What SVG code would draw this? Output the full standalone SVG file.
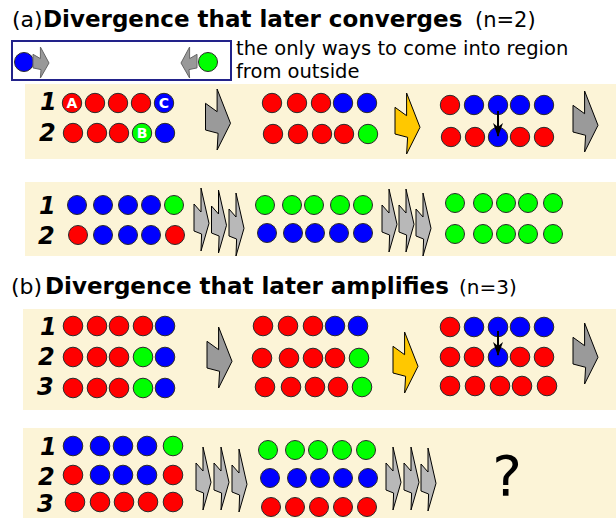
<svg xmlns="http://www.w3.org/2000/svg" xmlns:xlink="http://www.w3.org/1999/xlink" width="616" height="520" viewBox="0 0 616 520">
<style>
.bg{fill:#fcf4d7}
circle{stroke:#2a2a2a;stroke-width:1}
.r{fill:#ff0000}.b{fill:#0000ff}.g{fill:#00ff00}
.lbl{font-family:"DejaVu Sans",sans-serif;font-weight:bold;font-style:italic;font-size:24px;fill:#000}
.hd{font-family:"DejaVu Sans",sans-serif;fill:#000}
.let{font-family:"DejaVu Sans",sans-serif;font-weight:bold;font-size:14px;fill:#fff;text-anchor:middle}
.ga{fill:#9a9a9a;stroke:#000;stroke-width:1;stroke-linejoin:miter}
.ya{fill:#ffc800;stroke:#000;stroke-width:1}
.sa{fill:#b8b8b8;stroke:#000;stroke-width:1}
.la{fill:#999;stroke:#666;stroke-width:1}
</style>
<defs>
<path id="big" d="M11.6,0 L25,34.3 L11.6,61 L12.6,44.3 L0,41 L0,14.3 L11.6,22.7 Z"/>
<path id="small" d="M7,0 L15,35.3 L7,63 L7.6,46 L0,43 L0,16 L7,24 Z"/>
<path id="leg" d="M7.4,0 L16,16 L7.4,31 L8,22.6 L0,20.9 L0,7.3 L7.4,11.6 Z"/>
<marker id="ah" markerWidth="14" markerHeight="10" refX="13" refY="5" orient="auto" markerUnits="userSpaceOnUse" viewBox="0 0 14 10">
<path d="M0,0 L14,5 L0,10 L4,5 Z" fill="#000"/>
</marker>
</defs>

<!-- panels -->
<rect class="bg" x="25" y="84" width="591" height="75"/>
<rect class="bg" x="25" y="182" width="591" height="74"/>
<rect class="bg" x="23" y="309" width="593" height="101"/>
<rect class="bg" x="23" y="428" width="593" height="90"/>

<!-- headers -->
<g id="header-a">
<text class="hd" x="12" y="27" font-size="22">(a)</text>
<text class="hd" x="43" y="27" font-size="23" font-weight="bold">Divergence that later converges</text>
<text class="hd" x="475" y="27" font-size="21">(n=2)</text>
</g>
<g id="header-b">
<text class="hd" x="11" y="294" font-size="22">(b)</text>
<text class="hd" x="45" y="294" font-size="23" font-weight="bold">Divergence that later amplifies</text>
<text class="hd" x="459" y="294" font-size="20">(n=3)</text>
</g>

<!-- legend -->
<g id="legend">
<rect x="12" y="41" width="219" height="39" fill="#fff" stroke="#22228a" stroke-width="2"/>
<circle class="b" cx="24" cy="62" r="9.5"/>
<use href="#leg" class="la" transform="translate(33,47)"/>
<use href="#leg" class="la" transform="translate(197,47) scale(-1,1)"/>
<circle class="g" cx="208" cy="62" r="9.5"/>
<text class="hd" x="236" y="55" font-size="19.5">the only ways to come into region</text>
<text class="hd" x="236" y="78" font-size="19.5">from outside</text>
</g>

<!-- row labels -->
<g id="labels">
<text class="lbl" x="40" y="110">1</text>
<text class="lbl" x="39" y="141">2</text>
<text class="lbl" x="39" y="214">1</text>
<text class="lbl" x="38" y="244">2</text>
<text class="lbl" x="40" y="335">1</text>
<text class="lbl" x="38" y="365">2</text>
<text class="lbl" x="37" y="395">3</text>
<text class="lbl" x="40" y="455">1</text>
<text class="lbl" x="38" y="485">2</text>
<text class="lbl" x="37" y="512">3</text>
</g>

<!-- (a) top panel -->
<g id="a1-s1">
<circle class="r" cx="72" cy="103" r="9.7"/><circle class="r" cx="95" cy="103" r="9.7"/><circle class="r" cx="118" cy="103" r="9.7"/><circle class="r" cx="141" cy="103" r="9.7"/><circle class="b" cx="164" cy="103" r="9.7"/>
<circle class="r" cx="73" cy="133" r="9.7"/><circle class="r" cx="97" cy="133" r="9.7"/><circle class="r" cx="119" cy="133" r="9.7"/><circle class="g" cx="142" cy="133" r="9.7"/><circle class="b" cx="165" cy="133" r="9.7"/>
<text class="let" x="72" y="108">A</text>
<text class="let" x="164" y="108">C</text>
<text class="let" x="142" y="138">B</text>
</g>
<g id="a1-s2">
<circle class="r" cx="272" cy="103" r="9.7"/><circle class="r" cx="297" cy="103" r="9.7"/><circle class="r" cx="321" cy="103" r="9.7"/><circle class="b" cx="343" cy="103" r="9.7"/><circle class="b" cx="367" cy="103" r="9.7"/>
<circle class="r" cx="273" cy="134" r="9.7"/><circle class="r" cx="298" cy="134" r="9.7"/><circle class="r" cx="322" cy="134" r="9.7"/><circle class="r" cx="344" cy="134" r="9.7"/><circle class="g" cx="368" cy="134" r="9.7"/>
</g>
<g id="a1-s3">
<circle class="r" cx="450" cy="105" r="9.7"/><circle class="b" cx="474" cy="105" r="9.7"/><circle class="b" cx="498" cy="105" r="9.7"/><circle class="b" cx="520" cy="105" r="9.7"/><circle class="b" cx="544" cy="105" r="9.7"/>
<circle class="r" cx="451" cy="137" r="9.7"/><circle class="r" cx="475" cy="137" r="9.7"/><circle class="b" cx="498" cy="137" r="9.7"/><circle class="r" cx="520" cy="137" r="9.7"/><circle class="r" cx="544" cy="137" r="9.7"/>
</g>

<!-- (a) bottom panel -->
<g id="a2-s1">
<circle class="b" cx="77" cy="205" r="9.5"/><circle class="b" cx="103" cy="205" r="9.5"/><circle class="b" cx="128" cy="205" r="9.5"/><circle class="b" cx="151" cy="205" r="9.5"/><circle class="g" cx="174" cy="205" r="9.5"/>
<circle class="r" cx="78" cy="235" r="9.5"/><circle class="b" cx="103" cy="235" r="9.5"/><circle class="b" cx="128" cy="235" r="9.5"/><circle class="b" cx="151" cy="235" r="9.5"/><circle class="r" cx="175" cy="235" r="9.5"/>
</g>
<g id="a2-s2">
<circle class="g" cx="265" cy="205" r="9.5"/><circle class="g" cx="292" cy="205" r="9.5"/><circle class="g" cx="314" cy="205" r="9.5"/><circle class="g" cx="340" cy="205" r="9.5"/><circle class="g" cx="363" cy="205" r="9.5"/>
<circle class="b" cx="267" cy="233" r="9.5"/><circle class="b" cx="293" cy="233" r="9.5"/><circle class="b" cx="315" cy="233" r="9.5"/><circle class="b" cx="339" cy="233" r="9.5"/><circle class="b" cx="363" cy="233" r="9.5"/>
</g>
<g id="a2-s3">
<circle class="g" cx="455" cy="203" r="9.5"/><circle class="g" cx="483" cy="203" r="9.5"/><circle class="g" cx="506" cy="203" r="9.5"/><circle class="g" cx="528" cy="203" r="9.5"/><circle class="g" cx="553" cy="203" r="9.5"/>
<circle class="g" cx="455" cy="234" r="9.5"/><circle class="g" cx="483" cy="234" r="9.5"/><circle class="g" cx="506" cy="234" r="9.5"/><circle class="g" cx="528" cy="234" r="9.5"/><circle class="g" cx="553" cy="234" r="9.5"/>
</g>

<!-- (b) top panel -->
<g id="b1-s1">
<circle class="r" cx="73" cy="326" r="9.8"/><circle class="r" cx="97" cy="326" r="9.8"/><circle class="r" cx="119" cy="326" r="9.8"/><circle class="r" cx="143" cy="326" r="9.8"/><circle class="b" cx="165" cy="326" r="9.8"/>
<circle class="r" cx="73" cy="357" r="9.8"/><circle class="r" cx="97" cy="357" r="9.8"/><circle class="r" cx="119" cy="357" r="9.8"/><circle class="g" cx="143" cy="357" r="9.8"/><circle class="b" cx="165" cy="357" r="9.8"/>
<circle class="r" cx="73" cy="388" r="9.8"/><circle class="r" cx="97" cy="388" r="9.8"/><circle class="r" cx="119" cy="388" r="9.8"/><circle class="g" cx="143" cy="388" r="9.8"/><circle class="b" cx="165" cy="388" r="9.8"/>
</g>
<g id="b1-s2">
<circle class="r" cx="263" cy="326" r="9.8"/><circle class="r" cx="288" cy="326" r="9.8"/><circle class="r" cx="313" cy="326" r="9.8"/><circle class="b" cx="335" cy="326" r="9.8"/><circle class="b" cx="358" cy="326" r="9.8"/>
<circle class="r" cx="262" cy="358" r="9.8"/><circle class="r" cx="289" cy="358" r="9.8"/><circle class="r" cx="313" cy="358" r="9.8"/><circle class="r" cx="335" cy="358" r="9.8"/><circle class="g" cx="359" cy="358" r="9.8"/>
<circle class="r" cx="265" cy="387" r="9.8"/><circle class="r" cx="291" cy="387" r="9.8"/><circle class="r" cx="315" cy="387" r="9.8"/><circle class="r" cx="338" cy="387" r="9.8"/><circle class="g" cx="362" cy="387" r="9.8"/>
</g>
<g id="b1-s3">
<circle class="r" cx="450" cy="327" r="9.8"/><circle class="b" cx="474" cy="327" r="9.8"/><circle class="b" cx="498" cy="327" r="9.8"/><circle class="b" cx="520" cy="327" r="9.8"/><circle class="b" cx="544" cy="327" r="9.8"/>
<circle class="r" cx="450" cy="357" r="9.8"/><circle class="r" cx="474" cy="357" r="9.8"/><circle class="b" cx="498" cy="357" r="9.8"/><circle class="r" cx="520" cy="357" r="9.8"/><circle class="r" cx="544" cy="357" r="9.8"/>
<circle class="r" cx="450" cy="386" r="9.8"/><circle class="r" cx="475" cy="386" r="9.8"/><circle class="r" cx="500" cy="386" r="9.8"/><circle class="r" cx="522" cy="386" r="9.8"/><circle class="r" cx="547" cy="386" r="9.8"/>
</g>

<!-- (b) bottom panel -->
<g id="b2-s1">
<circle class="b" cx="73" cy="446" r="9.8"/><circle class="b" cx="100" cy="446" r="9.8"/><circle class="b" cx="123" cy="446" r="9.8"/><circle class="b" cx="147" cy="446" r="9.8"/><circle class="g" cx="173" cy="446" r="9.8"/>
<circle class="r" cx="73" cy="475" r="9.8"/><circle class="b" cx="100" cy="475" r="9.8"/><circle class="b" cx="123" cy="475" r="9.8"/><circle class="b" cx="147" cy="475" r="9.8"/><circle class="r" cx="173" cy="475" r="9.8"/>
<circle class="r" cx="75" cy="502" r="9.8"/><circle class="r" cx="100" cy="502" r="9.8"/><circle class="r" cx="124" cy="502" r="9.8"/><circle class="r" cx="148" cy="502" r="9.8"/><circle class="r" cx="173" cy="502" r="9.8"/>
</g>
<g id="b2-s2">
<circle class="g" cx="268" cy="450" r="9.5"/><circle class="g" cx="295" cy="450" r="9.5"/><circle class="g" cx="318" cy="450" r="9.5"/><circle class="g" cx="342" cy="450" r="9.5"/><circle class="g" cx="366" cy="450" r="9.5"/>
<circle class="b" cx="270" cy="478" r="9.5"/><circle class="b" cx="297" cy="478" r="9.5"/><circle class="b" cx="320" cy="478" r="9.5"/><circle class="b" cx="343" cy="478" r="9.5"/><circle class="b" cx="368" cy="478" r="9.5"/>
<circle class="r" cx="271" cy="507" r="9.5"/><circle class="r" cx="295" cy="507" r="9.5"/><circle class="r" cx="319" cy="507" r="9.5"/><circle class="r" cx="343" cy="507" r="9.5"/><circle class="r" cx="367" cy="507" r="9.5"/>
</g>
<g id="b2-unknown">
<text class="hd" x="507" y="495" font-size="56" text-anchor="middle">?</text>
</g>

<!-- connectors -->
<g id="connectors">
<use href="#big" class="ga" transform="translate(205.5,89)"/>
<use href="#big" class="ya" transform="translate(395,93)"/>
<use href="#big" class="ga" transform="translate(573,91)"/>
<line x1="498" y1="111" x2="498" y2="136" stroke="#000" stroke-width="2" marker-end="url(#ah)"/>

<use href="#small" class="sa" transform="translate(194,188)"/>
<use href="#small" class="sa" transform="translate(211.5,190)"/>
<use href="#small" class="sa" transform="translate(229,193)"/>
<use href="#small" class="sa" transform="translate(382,189)"/>
<use href="#small" class="sa" transform="translate(399,189)"/>
<use href="#small" class="sa" transform="translate(416,193)"/>

<use href="#big" class="ga" transform="translate(207,327)"/>
<use href="#big" class="ya" transform="translate(393,332)"/>
<use href="#big" class="ga" transform="translate(573,323)"/>
<line x1="498" y1="331" x2="498" y2="355" stroke="#000" stroke-width="2" marker-end="url(#ah)"/>

<use href="#small" class="sa" transform="translate(196,447)"/>
<use href="#small" class="sa" transform="translate(214,447)"/>
<use href="#small" class="sa" transform="translate(232,449)"/>
<use href="#small" class="sa" transform="translate(386,447)"/>
<use href="#small" class="sa" transform="translate(404,447)"/>
<use href="#small" class="sa" transform="translate(421,448)"/>
</g>
</svg>
